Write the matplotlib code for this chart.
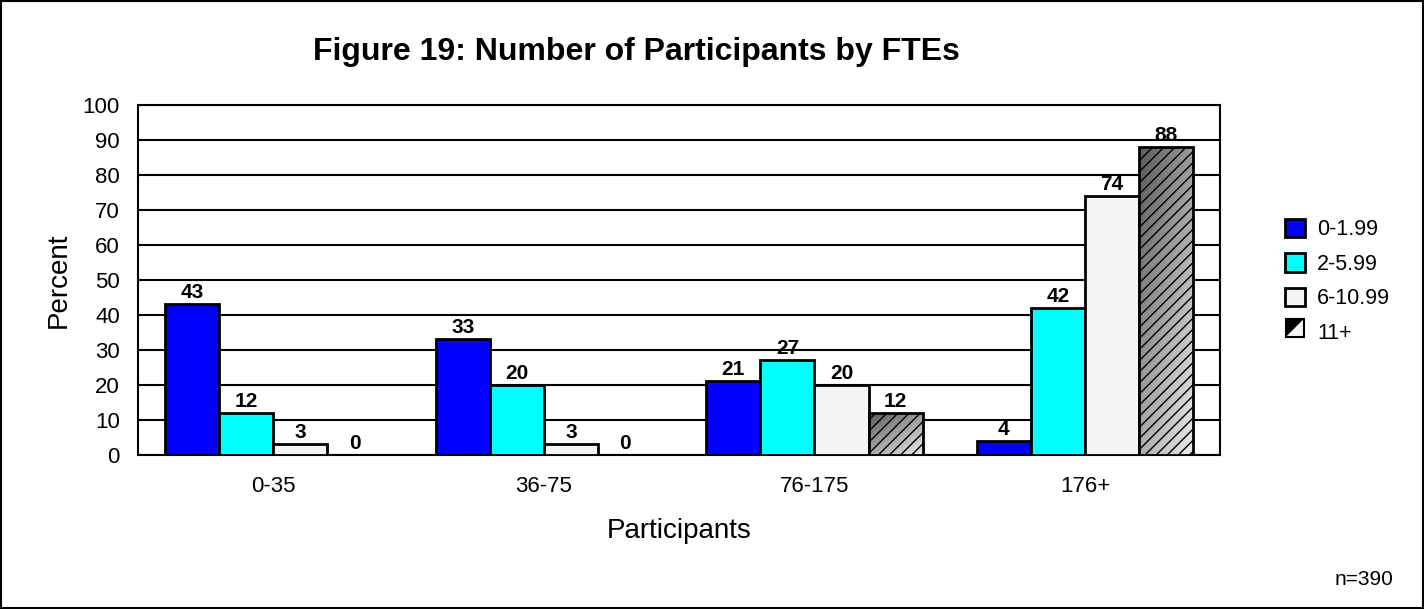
import numpy as np
import matplotlib.pyplot as plt
from matplotlib.patches import Polygon, Rectangle
from matplotlib.colors import LinearSegmentedColormap

plt.rcParams['font.family'] = ['Liberation Sans', 'DejaVu Sans']

# Data
groups = ['0-35', '36-75', '76-175', '176+']
series = ['0-1.99', '2-5.99', '6-10.99', '11+']
fte_0_2 = [43, 33, 21, 4]
fte_2_6 = [12, 20, 27, 42]
fte_6_11 = [3, 3, 20, 74]
fte_11 = [0, 0, 12, 88]

values = [fte_0_2, fte_2_6, fte_6_11, fte_11]
colors = ['#0000ff', '#00ffff', '#f5f5f5', None]
grad_cmap = LinearSegmentedColormap.from_list('grad', ['#ececec', '#5a5a5a'])


class SplitHandler:
    """Legend key: dark upper-left triangle, light lower-right."""
    def legend_artist(self, legend, orig_handle, fontsize, handlebox):
        x0, y0 = handlebox.xdescent, handlebox.ydescent
        w, h = handlebox.width, handlebox.height
        s = min(w, h)
        x0 = x0 + (w - s) / 2
        tr = handlebox.get_transform()
        dark = Polygon([[x0, y0], [x0, y0 + s], [x0 + s, y0 + s]],
                       closed=True, facecolor='#000000', edgecolor='none', transform=tr)
        light = Polygon([[x0, y0], [x0 + s, y0], [x0 + s, y0 + s]],
                        closed=True, facecolor='#f5f5f5', edgecolor='none', transform=tr)
        box = Rectangle((x0, y0), s, s, facecolor='none', edgecolor='black', lw=1.5, transform=tr)
        for a in (dark, light, box):
            handlebox.add_artist(a)
        return box


fig = plt.figure(figsize=(14.24, 6.09), dpi=100)
ax = fig.add_axes([0.0969, 0.2529, 0.7601, 0.5747])

x = np.arange(len(groups))
width = 0.2
handles = []
for j, (vals, col) in enumerate(zip(values, colors)):
    pos = x + (j - 1.5) * width
    if col is not None:
        bars = ax.bar(pos, vals, width, color=col, edgecolor='black', linewidth=2, zorder=3)
        handles.append(bars[0])
    else:
        bars = ax.bar(pos, vals, width, facecolor='none', edgecolor='black',
                      hatch='///', linewidth=2, zorder=4)
        for b, v in zip(bars, vals):
            if v <= 0:
                continue
            xs, ys = np.meshgrid(np.linspace(0, 1, 50), np.linspace(0, 1, 200))
            grad = 0.55 * ys + 0.45 * (1 - xs)
            im = ax.imshow(grad, cmap=grad_cmap, origin='lower', aspect='auto',
                           extent=[b.get_x(), b.get_x() + b.get_width(), 0, v],
                           vmin=0, vmax=1, zorder=3)
            im.set_clip_path(b)
        handles.append(bars[0])
    for p, v in zip(pos, vals):
        ax.text(p, v + 0.6, f'{v}', ha='center', va='bottom', fontsize=15, fontweight='bold')

ax.set_xlim(-0.5, 3.5)
ax.set_ylim(0, 100)
ax.set_yticks(np.arange(0, 101, 10))
ax.set_xticks(x)
ax.set_xticklabels(groups)
ax.tick_params(axis='both', labelsize=16, length=0)
ax.tick_params(axis='y', pad=13)
ax.tick_params(axis='x', pad=15)
ax.yaxis.grid(True, color='black', linewidth=1.5)
ax.set_axisbelow(True)
for sp in ax.spines.values():
    sp.set_linewidth(1.5)

ax.set_ylabel('Percent', fontsize=20, labelpad=8)
ax.set_xlabel('Participants', fontsize=20, labelpad=15)

fig.text(0.447, 0.915, 'Figure 19: Number of Participants by FTEs',
         ha='center', va='center', fontsize=23, fontweight='bold')
fig.text(0.958, 0.048, 'n=390', ha='center', va='center', fontsize=15)

leg = fig.legend(handles, series, loc='center left', bbox_to_anchor=(0.889, 0.538),
                 frameon=False, fontsize=15.5, handlelength=0.93, handleheight=0.93,
                 handletextpad=0.55, labelspacing=0.6,
                 handler_map={handles[3]: SplitHandler()})

fig.add_artist(Rectangle((0.001, 0.002), 0.998, 0.996, transform=fig.transFigure,
                         facecolor='none', edgecolor='black', lw=1.5))

fig.savefig('out.png', dpi=100)
